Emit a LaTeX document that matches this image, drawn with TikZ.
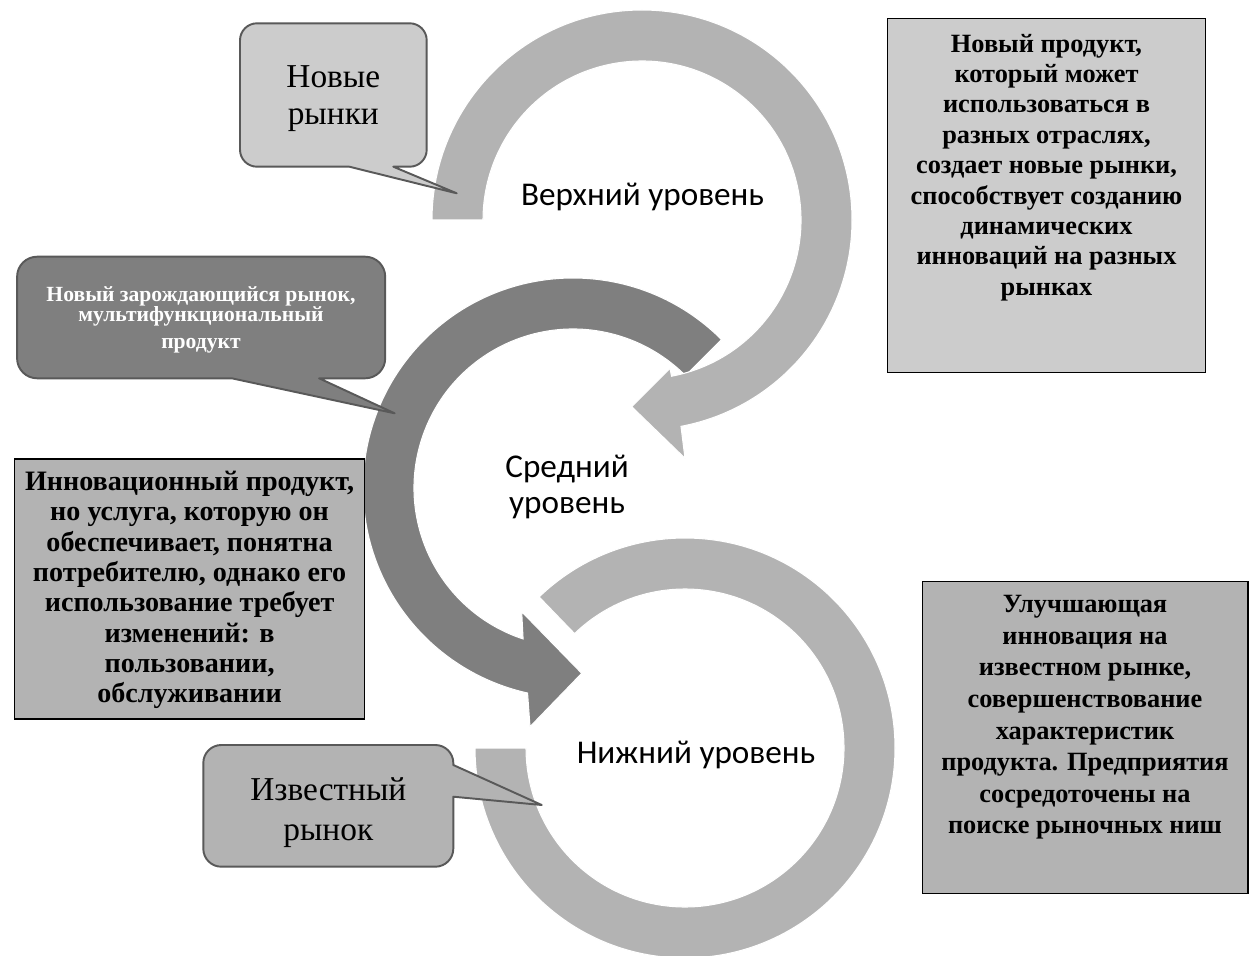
\documentclass[tikz,border=0pt]{standalone}
\usepackage{fontspec}
\setmainfont{Liberation Serif}
\newfontfamily\calfont{Carlito}
\usetikzlibrary{calc}
\definecolor{lightring}{HTML}{B3B3B3}
\definecolor{darkring}{HTML}{7F7F7F}
\definecolor{paleFill}{HTML}{CCCCCC}
\definecolor{midFill}{HTML}{B3B3B3}
\definecolor{calloutline}{HTML}{595959}
\begin{document}
\begin{tikzpicture}[x=0.02cm,y=-0.02cm,
  lightarrow/.style={fill=lightring, draw=white, line width=0.6pt},
  darkarrow/.style={fill=darkring, draw=white, line width=0.6pt},
  callout/.style={draw=calloutline, line width=1.1pt, line join=round},
  infobox/.style={draw=black, line width=0.8pt},
  lvl/.style={font=\calfont\fontsize{18.9}{20.4}\selectfont, inner sep=0pt, align=center},
  boxtext/.style={font=\bfseries\fontsize{15}{17.3}\selectfont, inner sep=0pt, align=center},
  calltext/.style={font=\fontsize{19}{21.5}\selectfont, inner sep=0pt, align=center}
]
\useasboundingbox (0,0) rectangle (1250,956);
\fill[white] (0,0) rectangle (1250,956);

\coordinate (T) at (642,220);
\coordinate (M) at (573,488);
\coordinate (B) at (685,748);

% bottom ring
\path[lightarrow] ($(B)+(180:210)$) arc[start angle=180, end angle=-134, radius=210]
  -- ($(B)+(-134:159)$) arc[start angle=-134, end angle=180, radius=159] -- cycle;

% middle ring with arrow head
\path[darkarrow] ($(M)+(-45:210)$) arc[start angle=-45, end angle=-257.5, radius=210]
  -- (530,726.7) -- (581.7,673.3) -- (521.7,611.7)
  -- ($(M)+(-251.7:159)$) arc[start angle=-251.7, end angle=-45, radius=159] -- cycle;

% top ring with arrow head
\path[lightarrow] ($(T)+(180:210)$) arc[start angle=180, end angle=439.3, radius=210]
  -- (685,458.3) -- (631.7,406.7) -- (670,368.3)
  -- ($(T)+(79.3:159)$) arc[start angle=439.3, end angle=180, radius=159] -- cycle;

% level labels
\node[lvl, anchor=base] (lvltop) at (642.5,205.5) {Верхний уровень};
\node[lvl, anchor=north] (lvlmid) at (567,455) {Средний\\уровень};
\node[lvl, anchor=base] (lvlbot) at (696,763.5) {Нижний уровень};

% callout 1
\path[callout, fill=paleFill] (257,23.3) -- (409.7,23.3) arc[start angle=-90,end angle=0,radius=17]
  -- (426.7,149.7) arc[start angle=0,end angle=90,radius=17]
  -- (393.3,166.7) -- (456.7,193.3) -- (349.3,166.7)
  -- (257,166.7) arc[start angle=90,end angle=180,radius=17]
  -- (240,40.3) arc[start angle=180,end angle=270,radius=17] -- cycle;
\node[calltext, anchor=north] (newmk) at (333.3,65) {Новые\\рынки};

% callout 2
\path[callout, fill=darkring] (37.1,256.7) -- (365.2,256.7) arc[start angle=-90,end angle=0,radius=20]
  -- (385.2,358.3) arc[start angle=0,end angle=90,radius=20]
  -- (319.1,378.3) -- (394.6,413.3) -- (231.8,378.3)
  -- (37.1,378.3) arc[start angle=90,end angle=180,radius=20]
  -- (17.1,276.7) arc[start angle=180,end angle=270,radius=20] -- cycle;
\node[inner sep=0pt, align=center, text=white, font=\bfseries\fontsize{12.3}{11.4}\selectfont, anchor=north]
  (emerg) at (201,286.5) {Новый зарождающийся рынок,\\мультифункциональный\\[4pt]продукт};

% callout 3
\path[callout, fill=midFill] (221.3,745) -- (435.3,745) arc[start angle=-90,end angle=0,radius=18]
  -- (453.3,765) -- (541.7,805) -- (453.3,796.7)
  -- (453.3,848.7) arc[start angle=0,end angle=90,radius=18]
  -- (221.3,866.7) arc[start angle=90,end angle=180,radius=18]
  -- (203.3,763) arc[start angle=180,end angle=270,radius=18] -- cycle;
\node[calltext, font=\fontsize{19}{22.8}\selectfont, anchor=north] (known) at (328.3,777.5) {Известный\\рынок};

% info boxes
\path[infobox, fill=paleFill] (887.3,18.3) rectangle (1205.7,372.3);
\node[boxtext, anchor=north] (toptext) at (1046.5,33.7) {Новый продукт,\\который может\\использоваться в\\разных отраслях,\\создает новые рынки,\\способствует созданию\\динамических\\инноваций на разных\\рынках};

\path[infobox, fill=midFill] (14.7,459) rectangle (364.5,719);
\node[boxtext, font=\bfseries\fontsize{16}{17.3}\selectfont, anchor=north] (midtext) at (189.6,470.5) {Инновационный продукт,\\но услуга, которую он\\обеспечивает, понятна\\потребителю, однако его\\использование требует\\изменений: в\\пользовании,\\обслуживании};

\path[infobox, fill=midFill] (922.7,581.7) rectangle (1248,893.3);
\node[boxtext, font=\bfseries\fontsize{15}{18}\selectfont, anchor=north] (bottext) at (1085,595) {Улучшающая\\инновация на\\известном рынке,\\совершенствование\\характеристик\\продукта. Предприятия\\сосредоточены на\\поиске рыночных ниш};
\end{tikzpicture}
\end{document}
